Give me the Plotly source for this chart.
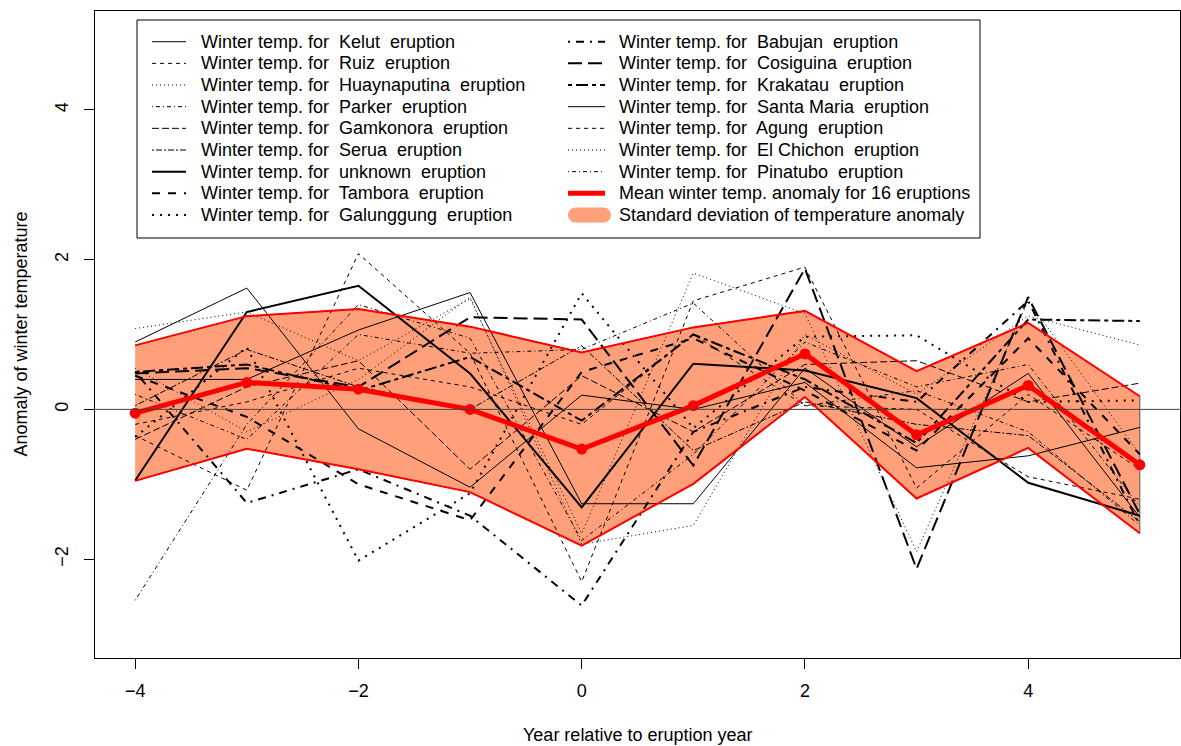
import plotly.graph_objects as go

# ---------------- data ----------------
years = [-4, -3, -2, -1, 0, 1, 2, 3, 4, 5]

eruptions = ["Kelut", "Ruiz", "Huaynaputina", "Parker", "Gamkonora", "Serua",
             "unknown", "Tambora", "Galunggung", "Babujan", "Cosiguina",
             "Krakatau", "Santa Maria", "Agung", "El Chichon", "Pinatubo"]

kelut        = [0.90, 1.62, -0.26, -1.04, 0.19, 0.00, 0.36, -0.78, -0.62, -0.24]
ruiz         = [-0.35, -1.08, 2.08, 0.75, -2.30, 1.45, 1.90, -1.05, 0.20, -0.80]
huaynaputina = [1.08, 1.30, 0.65, 1.48, -1.66, 1.82, 1.28, -1.90, 1.45, -0.60]
parker       = [-2.55, -0.20, 1.40, 0.95, -1.75, -0.60, 0.90, 0.30, 0.60, -1.30]
gamkonora    = [-0.40, 0.30, 0.65, -0.80, 0.45, -0.30, 0.60, 0.65, 0.10, 0.35]
serua        = [0.05, 0.80, 0.30, 0.00, 0.85, -0.55, 0.10, -0.20, -0.35, -1.50]
unknown      = [-0.95, 1.30, 1.65, 0.48, -1.31, 0.61, 0.52, 0.15, -0.98, -1.42]
tambora      = [0.45, -0.10, -1.00, -1.48, 0.50, 0.95, 0.25, -0.55, 0.95, -0.60]
galunggung   = [-0.37, 0.83, -2.02, -1.12, 1.55, -0.25, 0.97, 0.99, 0.10, 0.12]
babujan      = [0.50, -1.25, -0.80, -1.42, -2.62, -0.30, 0.30, 0.10, 1.45, -1.55]
cosiguina    = [0.48, 0.55, 0.30, 1.23, 1.20, -0.75, 1.88, -2.13, 1.50, -1.40]
krakatau     = [0.50, 0.60, 0.25, 0.70, -0.15, 1.00, 0.40, -0.45, 1.20, 1.18]
santa_maria  = [0.40, 0.40, 1.06, 1.56, -1.26, -1.26, 0.55, -0.50, 0.48, -1.44]
agung        = [-0.20, 0.10, 0.55, 0.30, -0.20, 1.00, 0.05, 0.00, -0.90, -1.20]
el_chichon   = [0.55, -0.30, 0.40, 1.50, -1.80, -1.55, 1.00, 0.20, 1.25, 0.86]
pinatubo     = [0.20, -0.40, 1.00, 0.75, 0.80, 1.42, 0.05, 0.25, -0.30, -1.55]

series = [kelut, ruiz, huaynaputina, parker, gamkonora, serua, unknown, tambora,
          galunggung, babujan, cosiguina, krakatau, santa_maria, agung,
          el_chichon, pinatubo]

mean_anom = [-0.05, 0.36, 0.27, 0.00, -0.53, 0.05, 0.74, -0.34, 0.32, -0.74]
sd_anom   = [0.905, 0.885, 1.07, 1.105, 1.29, 1.045, 0.575, 0.85, 0.835, 0.915]

x_ticks = [-4, -2, 0, 2, 4]
y_ticks = [-2, 0, 2, 4]

# ---------------- styles ----------------
FONT = "Liberation Sans, Arial, Helvetica, sans-serif"
SALMON = "#FFA07A"
RED = "#FF0000"

# R lty 1..6 : solid, dashed(44), dotted(13), dotdash(1343), longdash(73), twodash(2262)
def r_dash(lty, lwd):
    pats = {1: None, 2: [4, 4], 3: [1, 3], 4: [1, 3, 4, 3], 5: [7, 3], 6: [2, 2, 6, 2]}
    p = pats[lty]
    if p is None:
        return "solid"
    return ",".join(f"{v * lwd}px" for v in p)

ltys = [1, 2, 3, 4, 5, 6] * 3
lwds = [1] * 6 + [2] * 6 + [1] * 6

upper = [m + s for m, s in zip(mean_anom, sd_anom)]
lower = [m - s for m, s in zip(mean_anom, sd_anom)]

fig = go.Figure()

# SD polygon
fig.add_trace(go.Scatter(
    x=years + years[::-1], y=upper + lower[::-1], fill="toself",
    fillcolor=SALMON, mode="lines", line=dict(color="#555555", width=1),
    showlegend=False, hoverinfo="skip"))

# individual eruptions
for i, (name, vals) in enumerate(zip(eruptions, series)):
    fig.add_trace(go.Scatter(
        x=years, y=vals, mode="lines", name=f"Winter temp. for {name} eruption",
        line=dict(color="black", width=lwds[i], dash=r_dash(ltys[i], lwds[i])),
        showlegend=False))

# SD bounds
for b in (upper, lower):
    fig.add_trace(go.Scatter(x=years, y=b, mode="lines",
                             line=dict(color=RED, width=2),
                             showlegend=False, hoverinfo="skip"))

# mean
fig.add_trace(go.Scatter(
    x=years, y=mean_anom, mode="lines+markers",
    line=dict(color=RED, width=5), marker=dict(color=RED, size=11),
    name="Mean winter temp. anomaly for 16 eruptions", showlegend=False))

# ---------------- layout geometry ----------------
W, H = 1181, 746
PL, PR, PT, PB = 95, 1180, 11, 658

def xp(px):
    return (px - PL) / (PR - PL)

def yp(py):
    return (PB - py) / (PB - PT)

shapes = []
annotations = []

# zero line
shapes.append(dict(type="line", xref="paper", yref="y", x0=0, x1=1, y0=0, y1=0,
                   line=dict(color="#444444", width=1)))

# legend box
shapes.append(dict(type="rect", xref="paper", yref="paper",
                   x0=xp(137), x1=xp(980), y0=yp(238), y1=yp(20),
                   line=dict(color="black", width=1), fillcolor="white"))

row0, drow = 41.7, 21.66
col_line = [(152, 186), (568, 605)]
col_text = [198.5, 617]

labels = [f"Winter temp. for\u00a0 {n}\u00a0 eruption" for n in eruptions]
labels += ["Mean winter temp. anomaly for 16 eruptions",
           "Standard deviation of temperature anomaly"]

for k, lab in enumerate(labels):
    col = 0 if k < 9 else 1
    row = k if k < 9 else k - 9
    ypx = row0 + drow * row
    x1, x2 = col_line[col]
    if k < 16:
        shapes.append(dict(type="line", xref="paper", yref="paper",
                           x0=xp(x1), x1=xp(x2), y0=yp(ypx), y1=yp(ypx),
                           line=dict(color="black", width=lwds[k],
                                     dash=r_dash(ltys[k], lwds[k]))))
    elif k == 16:
        shapes.append(dict(type="line", xref="paper", yref="paper",
                           x0=xp(x1), x1=xp(x2), y0=yp(ypx), y1=yp(ypx),
                           line=dict(color=RED, width=5)))
    else:
        r = 7.5
        a, b = 568 + r, 611 - r
        top, bot = ypx - r, ypx + r
        c = 0.5523 * r
        path = (f"M {xp(a)},{yp(top)} L {xp(b)},{yp(top)} "
                f"C {xp(b + c)},{yp(top)} {xp(b + r)},{yp(ypx - c)} {xp(b + r)},{yp(ypx)} "
                f"C {xp(b + r)},{yp(ypx + c)} {xp(b + c)},{yp(bot)} {xp(b)},{yp(bot)} "
                f"L {xp(a)},{yp(bot)} "
                f"C {xp(a - c)},{yp(bot)} {xp(a - r)},{yp(ypx + c)} {xp(a - r)},{yp(ypx)} "
                f"C {xp(a - r)},{yp(ypx - c)} {xp(a - c)},{yp(top)} {xp(a)},{yp(top)} Z")
        shapes.append(dict(type="path", xref="paper", yref="paper", path=path,
                           fillcolor=SALMON, line=dict(width=0)))
    annotations.append(dict(text=lab, xref="paper", yref="paper",
                            x=xp(col_text[col]), y=yp(ypx), xanchor="left",
                            yanchor="middle", showarrow=False,
                            font=dict(family=FONT, size=18, color="black")))

# axis titles
annotations.append(dict(text="Year relative to eruption year", xref="paper", yref="paper",
                        x=0.5, y=yp(735), xanchor="center", yanchor="middle",
                        showarrow=False, font=dict(family=FONT, size=18, color="black")))
annotations.append(dict(text="Anomaly of winter temperature", xref="paper", yref="paper",
                        x=xp(20), y=0.5, xanchor="center", yanchor="middle",
                        textangle=-90, showarrow=False,
                        font=dict(family=FONT, size=18, color="black")))

axis_common = dict(showgrid=False, zeroline=False, showline=True, mirror=True,
                   linecolor="black", linewidth=1, ticks="outside", ticklen=10,
                   tickwidth=1, tickcolor="black",
                   tickfont=dict(family=FONT, size=18, color="black"))

fig.update_layout(
    width=W, height=H,
    margin=dict(l=PL, r=W - PR, t=PT, b=H - PB, pad=0),
    paper_bgcolor="white", plot_bgcolor="white",
    showlegend=False,
    xaxis=dict(range=[-4.36, 5.36], tickvals=x_ticks, ticklabelstandoff=6, **axis_common),
    yaxis=dict(range=[-3.32, 5.32], tickvals=y_ticks, tickangle=-90,
               ticklabelstandoff=9, **axis_common),
    shapes=shapes, annotations=annotations,
)

fig.write_html("out.html", config={"displayModeBar": False},
               post_script="document.body.style.margin='0';document.body.style.overflow='hidden';")
